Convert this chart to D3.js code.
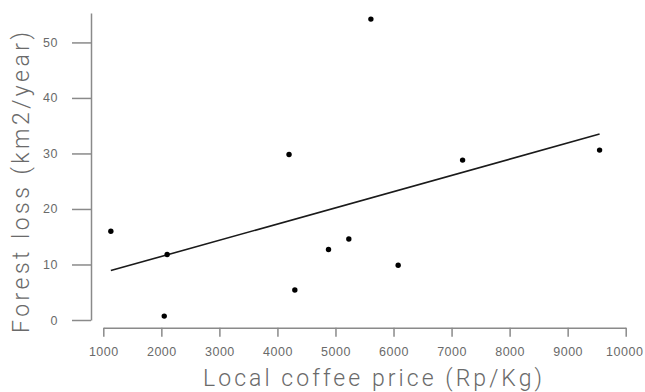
<!DOCTYPE html>
<html>
<head>
<meta charset="utf-8">
<script src="https://cdn.jsdelivr.net/npm/d3@7"></script>
<style>
  body { margin: 0; background: #fff; }
  svg { display: block; }
</style>
</head>
<body>
<div id="chart"></div>
<script>
// data
const coffeePrice = [1130, 2050, 2100, 4200, 4300, 4880, 5230, 5610, 6080, 7190, 9550];
const forestLoss  = [16.0, 0.7, 11.8, 29.8, 5.4, 12.7, 14.6, 54.2, 9.85, 28.8, 30.6];
const xTicks = [1000, 2000, 3000, 4000, 5000, 6000, 7000, 8000, 9000, 10000];
const yTicks = [0, 10, 20, 30, 40, 50];

const width = 645, height = 392;
const margins = { top: 13, bottom: 72, left: 91, right: 19 };

const svg = d3.select('#chart').append('svg')
    .attr('width', width)
    .attr('height', height);

// scales
const xScale = d3.scaleLinear().domain([1000, 10000]).range([103.3, 625.7]);
const yScale = d3.scaleLinear().domain([0, 55.3]).range([height - margins.bottom, margins.top]);

const axisColor = '#8a8a8a';
const textColor = '#6a6a6a';

// x axis
const xAxisGroup = svg.append('g')
    .attr('transform', `translate(0, 327.7)`)
    .call(d3.axisBottom(xScale).tickValues(xTicks).tickSize(9).tickSizeOuter(0).tickPadding(10).tickFormat(d3.format('d')));

// y axis
const yAxisGroup = svg.append('g')
    .attr('transform', `translate(${margins.left}, 0)`)
    .call(d3.axisLeft(yScale).tickValues(yTicks).tickSize(19).tickSizeOuter(0).tickPadding(14).tickFormat(d3.format('d')));

[xAxisGroup, yAxisGroup].forEach(g => {
    g.select('.domain').attr('stroke', axisColor).attr('stroke-width', 1.5);
    g.selectAll('.tick line').attr('stroke', axisColor).attr('stroke-width', 1.5);
    g.selectAll('.tick text')
        .attr('fill', textColor)
        .style('font-family', '"Liberation Sans", Arial, sans-serif')
        .style('font-size', '12.5px')
        .style('letter-spacing', '0.5px');
});
// keep the last label inside the page
xAxisGroup.selectAll('.tick text').filter(d => d === 10000).attr('dx', '-1.5px');

// regression line (least squares from the points)
const mx = d3.mean(coffeePrice), my = d3.mean(forestLoss);
const slope = d3.sum(coffeePrice, (x, i) => (x - mx) * (forestLoss[i] - my)) /
              d3.sum(coffeePrice, x => (x - mx) * (x - mx));
const intercept = my - slope * mx;
const xExtent = d3.extent(coffeePrice);

const line = d3.line()
    .x(d => xScale(d))
    .y(d => yScale(intercept + slope * d));

svg.append('path')
    .datum(xExtent)
    .attr('d', line)
    .attr('fill', 'none')
    .attr('stroke', '#1a1a1a')
    .attr('stroke-width', 1.6);

// points
svg.append('g')
    .selectAll('circle')
    .data(coffeePrice)
    .join('circle')
    .attr('cx', d => xScale(d))
    .attr('cy', (d, i) => yScale(forestLoss[i]))
    .attr('r', 2.7)
    .attr('fill', '#000');

// axis titles
svg.append('text')
    .attr('x', 372.5)
    .attr('y', 386)
    .attr('text-anchor', 'middle')
    .attr('textLength', 339)
    .attr('fill', textColor)
    .style('font-family', 'Roboto, "Liberation Sans", sans-serif')
    .style('font-weight', 300)
    .style('font-size', '23px')
    .text('Local coffee price (Rp/Kg)');

svg.append('text')
    .attr('transform', 'translate(29, 182.5) rotate(-90)')
    .attr('text-anchor', 'middle')
    .attr('textLength', 301)
    .attr('fill', textColor)
    .style('font-family', 'Roboto, "Liberation Sans", sans-serif')
    .style('font-weight', 300)
    .style('font-size', '23px')
    .text('Forest loss (km2/year)');
</script>
</body>
</html>
